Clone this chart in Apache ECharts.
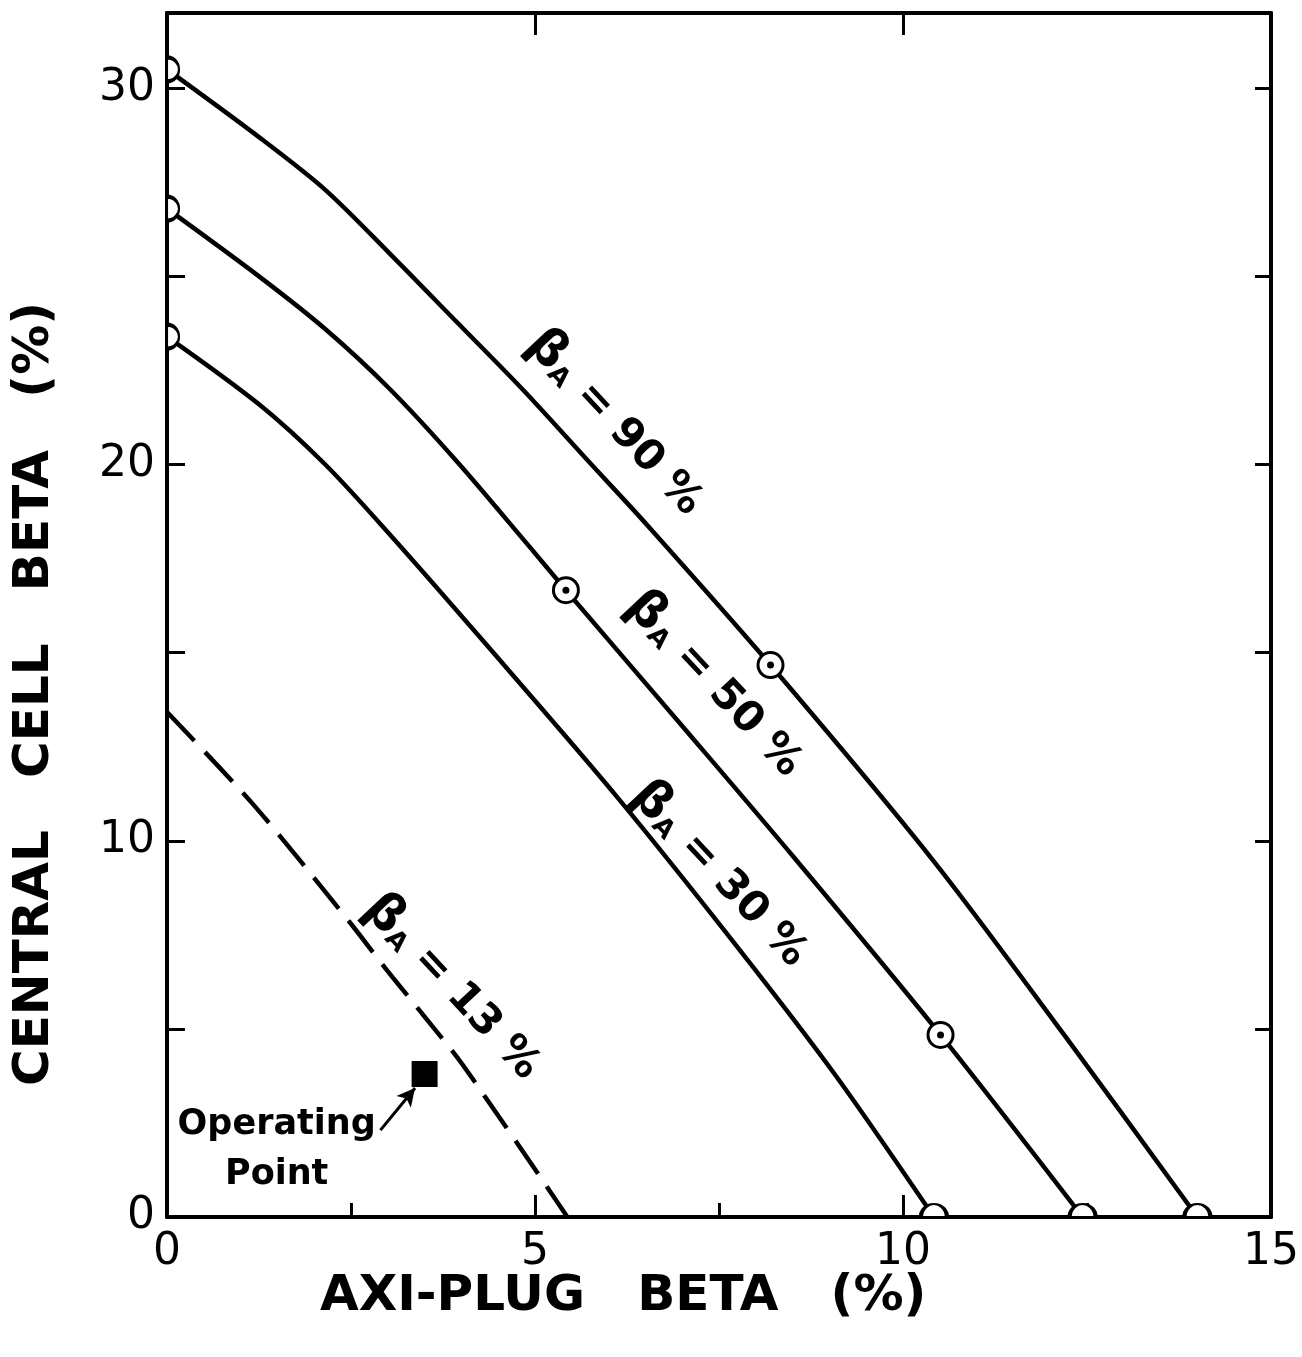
<!DOCTYPE html>
<html>
<head>
<meta charset="utf-8">
<script src="https://cdn.jsdelivr.net/npm/echarts@6/dist/echarts.min.js"></script>
<style>
html,body{margin:0;padding:0;background:#fff;}
#c{width:1302px;height:1357px;}
</style>
</head>
<body>
<div id="c"></div>
<script>
// ---- data ----
const beta90 = [[0,30.5],[1.25,28.7],[2.15,27.3],[3.03,25.6],[3.93,23.8],[4.83,22.0],[5.72,20.1],[6.52,18.4],[8.2,14.67],[10.4,9.5],[12.19,4.84],[14.0,0]];
const beta50 = [[0,26.8],[1.25,25.0],[2.15,23.6],[3.03,22.0],[3.93,20.1],[4.91,17.85],[5.42,16.66],[7.0,13.05],[8.5,9.6],[10.51,4.84],[12.44,0]];
const beta30 = [[0,23.4],[1.25,21.6],[2.15,20.0],[3.0,18.2],[4.3,15.3],[6.1,11.2],[7.74,7.2],[9.07,3.8],[10.42,0]];
const beta13 = [[0,13.42],[1.2,10.9],[2.48,7.84],[2.96,6.63],[3.51,5.30],[4.02,4.04],[5.44,0]];
const dottedMarkers = [[8.2,14.67],[5.42,16.66],[10.51,4.84]];
const operatingPoint = [[3.5,3.8]];
const xTickLabels = ['0','5','10','15'];
const yTickLabels = ['0','10','20','30'];
const curveLabels = [
  {pct:'90', at:[6.08,21.1]},
  {pct:'50', at:[7.43,14.15]},
  {pct:'30', at:[7.5,9.1]},
  {pct:'13', at:[3.87,6.1]}
];
const opLabelAt = [1.49,1.78];
const arrowFrom = [2.9,2.31], arrowTo = [3.37,3.43];

const allCurves = [beta90, beta50, beta30];
const leftEnds = allCurves.map(c => c[0]);
const bottomEnds = allCurves.map(c => c[c.length-1]);

const FONT = '"DejaVu Sans", sans-serif';
const chart = echarts.init(document.getElementById('c'), null, {renderer:'canvas'});

// half-circle symbols (bezier approximations so the bounding box is exact)
const RIGHT_HALF = 'path://M0,0 C5.52,0 10,4.48 10,10 C10,15.52 5.52,20 0,20 Z';
const UPPER_HALF = 'path://M0,10 C0,4.48 4.48,0 10,0 C15.52,0 20,4.48 20,10 Z';

const axisLine = {show:true, onZero:false, lineStyle:{color:'#000', width:4}};
const option = {
  backgroundColor:'#fff',
  animation:false,
  grid:{left:167, right:17, top:13, bottom:140, containLabel:false},
  xAxis:[
    {type:'value', position:'bottom', min:0, max:15, interval:5,
     axisLine, splitLine:{show:false},
     axisTick:{show:true, inside:true, length:22, lineStyle:{color:'#000', width:3}},
     minorTick:{show:true, splitNumber:2, length:14, lineStyle:{color:'#000', width:3}},
     axisLabel:{show:true, margin:14, color:'#000', fontSize:44, fontFamily:FONT,
       formatter:v => xTickLabels.includes(String(v)) ? String(v) : ''}},
    {type:'value', position:'top', min:0, max:15, interval:5,
     axisLine, splitLine:{show:false},
     axisTick:{show:true, inside:true, length:22, lineStyle:{color:'#000', width:3}},
     axisLabel:{show:false}}
  ],
  yAxis:[
    {type:'value', position:'left', min:0, max:32, interval:5,
     axisLine, splitLine:{show:false},
     axisTick:{show:true, inside:true, length:18, lineStyle:{color:'#000', width:3}},
     axisLabel:{show:true, margin:12, color:'#000', fontSize:44, fontFamily:FONT, showMaxLabel:false,
       formatter:v => yTickLabels.includes(String(v)) ? String(v) : ''}},
    {type:'value', position:'right', min:0, max:32, interval:5,
     axisLine, splitLine:{show:false},
     axisTick:{show:true, inside:true, length:16, lineStyle:{color:'#000', width:3}},
     axisLabel:{show:false}}
  ],
  graphic:[
    {type:'text', left:320, top:1272, style:{text:'AXI-PLUG   BETA   (%)', font:'bold 50px "DejaVu Sans"', fill:'#000'}},
    {type:'text', x:10, y:1086, rotation:Math.PI/2, style:{text:'CENTRAL   CELL   BETA   (%)', font:'bold 50px "DejaVu Sans"', fill:'#000'}}
  ],
  series:[
    {type:'line', data:beta90, smooth:0.3, showSymbol:false, lineStyle:{color:'#000', width:4.5}, z:3},
    {type:'line', data:beta50, smooth:0.3, showSymbol:false, lineStyle:{color:'#000', width:4.5}, z:3},
    {type:'line', data:beta30, smooth:0.3, showSymbol:false, lineStyle:{color:'#000', width:4.5}, z:3},
    {type:'line', data:beta13, smooth:0.3, showSymbol:false, lineStyle:{color:'#000', width:4.5, type:[40,15.3]}, z:3,
     markLine:{silent:true, symbol:['none','arrow'], symbolSize:[14,18], label:{show:false},
       lineStyle:{color:'#000', width:3, type:'solid'},
       data:[[{coord:arrowFrom},{coord:arrowTo}]]}},
    // half-circle end markers on the left axis
    {type:'scatter', data:leftEnds, symbol:RIGHT_HALF, symbolSize:[12,24], symbolOffset:[6,0],
     itemStyle:{color:'#fff', borderColor:'#000', borderWidth:3, opacity:1}, z:5},
    // half-circle end markers on the bottom axis
    {type:'scatter', data:bottomEnds, symbol:UPPER_HALF, symbolSize:[26,13], symbolOffset:[0,-6.5],
     itemStyle:{color:'#fff', borderColor:'#000', borderWidth:3, opacity:1}, z:5},
    // dotted circles
    {type:'scatter', data:dottedMarkers, symbol:'circle', symbolSize:25,
     itemStyle:{color:'#fff', borderColor:'#000', borderWidth:3, opacity:1}, z:5},
    {type:'scatter', data:dottedMarkers, symbol:'circle', symbolSize:7,
     itemStyle:{color:'#000', opacity:1}, z:6},
    // operating point
    {type:'scatter', data:operatingPoint, symbol:'rect', symbolSize:26, itemStyle:{color:'#000', opacity:1}, z:6},
    // curve labels
    {type:'scatter', data:curveLabels.map(l => ({value:l.at, name:l.pct})), symbolSize:0, z:7,
     itemStyle:{opacity:1},
     label:{show:true, position:'inside', rotate:-47, color:'#000', opacity:1,
       formatter:p => '{b|β}{s|A}{t| = ' + p.name + ' %}',
       rich:{
         b:{fontSize:50, fontFamily:FONT, fontWeight:'bold', color:'#000'},
         s:{fontSize:26, fontFamily:FONT, fontWeight:'bold', color:'#000', padding:[20,0,0,0]},
         t:{fontSize:42, fontFamily:FONT, fontWeight:'bold', color:'#000'}
       }}},
    // operating point text
    {type:'scatter', data:[opLabelAt], symbolSize:0, z:7, itemStyle:{opacity:1},
     label:{show:true, position:'inside', formatter:'Operating\nPoint', color:'#000', opacity:1,
       fontSize:35, fontWeight:'bold', lineHeight:50, fontFamily:FONT}}
  ]
};
chart.setOption(option);
</script>
</body>
</html>
